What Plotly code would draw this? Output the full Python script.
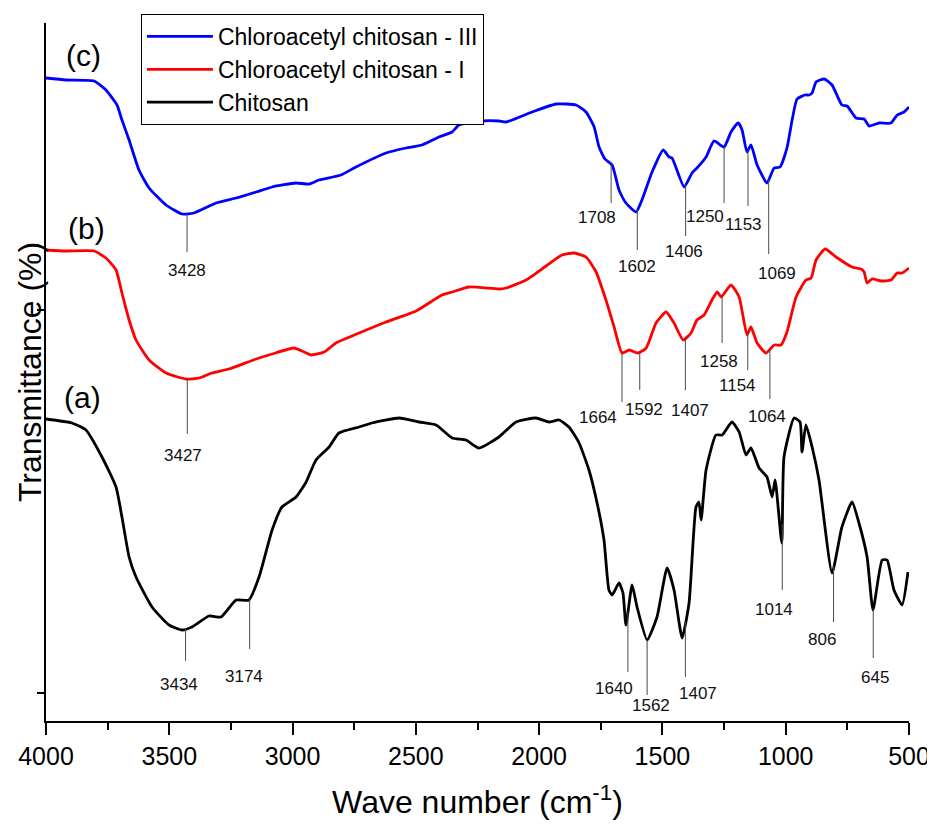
import numpy as np
import plotly.graph_objects as go

# ---------------- data ----------------
# Wave number (cm^-1) and transmittance (arbitrary offset units)
wn_chitosan = [4000, 3895, 3838, 3773, 3716, 3692, 3663, 3635, 3570, 3501, 3448, 3408, 3339, 3290,
               3229, 3177, 3136, 3083, 3043, 2986, 2945, 2905, 2852, 2812, 2730, 2678, 2568, 2487,
               2418, 2353, 2297, 2244, 2163, 2094, 2013, 1960, 1919, 1879, 1838, 1798, 1765, 1737,
               1717, 1704, 1676, 1660, 1648, 1623, 1603, 1562, 1522, 1481, 1453, 1420, 1392, 1364,
               1352, 1343, 1323, 1283, 1258, 1218, 1189, 1161, 1141, 1108, 1076, 1055, 1043, 1016,
               1007, 966, 942, 934, 918, 893, 865, 812, 772, 731, 703, 670, 646, 609, 589, 561, 528, 504]
t_chitosan = [296, 292, 285, 258, 228, 198, 158, 138, 108, 90, 85, 88, 99, 98,
              115, 115, 138, 185, 208, 218, 233, 255, 268, 282, 288, 292, 297, 293,
              290, 277, 275, 267, 278, 293, 297, 293, 295, 288, 272, 245, 212, 175,
              125, 120, 132, 122, 90, 130, 108, 75, 98, 147, 125, 77, 112, 208,
              213, 195, 245, 280, 280, 293, 283, 260, 267, 247, 238, 218, 235, 172,
              258, 297, 293, 263, 290, 268, 235, 142, 188, 213, 192, 158, 105, 155, 155, 125, 110, 143]

wn_ca1 = [4000, 3919, 3805, 3757, 3716, 3692, 3663, 3635, 3582, 3513, 3432, 3379, 3327, 3258,
          3148, 3083, 2994, 2962, 2925, 2872, 2824, 2730, 2621, 2499, 2394, 2353, 2284, 2163,
          2134, 2053, 1972, 1907, 1858, 1810, 1769, 1729, 1696, 1664, 1635, 1599, 1566, 1526,
          1485, 1453, 1416, 1384, 1360, 1331, 1299, 1278, 1262, 1222, 1189, 1157, 1141, 1116,
          1080, 1047, 1019, 995, 958, 918, 897, 877, 840, 796, 731, 694, 682, 670, 650, 613,
          573, 548, 528, 500]
t_ca1 = [465, 464, 464, 457, 445, 422, 395, 375, 355, 342, 336, 337, 342, 346,
         356, 361, 367, 364, 360, 363, 372, 382, 393, 404, 420, 423, 428, 426,
         427, 435, 449, 460, 462, 458, 443, 415, 388, 362, 365, 362, 367, 392,
         403, 392, 375, 382, 395, 400, 415, 423, 418, 430, 418, 380, 388, 372,
         362, 370, 370, 383, 418, 435, 437, 455, 466, 458, 448, 446, 443, 432, 436, 434,
         435, 442, 442, 447]

wn_ca3 = [4000, 3919, 3805, 3757, 3712, 3692, 3663, 3623, 3582, 3513, 3448, 3400, 3310, 3229,
          3148, 3083, 2986, 2933, 2893, 2804, 2743, 2621, 2540, 2475, 2406, 2353, 2325, 2232,
          2163, 2134, 2029, 1931, 1850, 1810, 1777, 1757, 1733, 1704, 1676, 1648, 1607, 1583,
          1542, 1497, 1473, 1461, 1412, 1380, 1360, 1323, 1291, 1250, 1222, 1193, 1177, 1157,
          1141, 1116, 1076, 1047, 1023, 995, 974, 954, 922, 905, 893, 877, 844, 812, 772, 751,
          715, 682, 662, 621, 573, 548, 520, 500]
t_ca3 = [637, 635, 634, 625, 610, 595, 575, 545, 527, 510, 501, 502, 512, 517,
         523, 528, 532, 531, 535, 540, 548, 562, 567, 570, 578, 583, 590, 594,
         594, 593, 603, 611, 610, 603, 588, 568, 556, 550, 525, 512, 503, 515,
         543, 565, 558, 557, 528, 542, 547, 558, 574, 568, 583, 592, 585, 563,
         570, 550, 532, 547, 548, 567, 595, 616, 620, 620, 622, 633, 636, 630, 610, 609,
         597, 596, 589, 592, 592, 600, 603, 608]

series_names = ["Chloroacetyl chitosan - III", "Chloroacetyl chitosan - I", "Chitosan"]
panel_labels = ["(c)", "(b)", "(a)"]

peaks_ca3 = [3428, 1708, 1602, 1406, 1250, 1153, 1069]
peaks_ca1 = [3427, 1664, 1592, 1407, 1258, 1154, 1064]
peaks_chitosan = [3434, 3174, 1640, 1562, 1407, 1014, 806, 645]

x_ticks = [4000, 3500, 3000, 2500, 2000, 1500, 1000, 500]
y_ticks = [22, 405]

# ---------------- layout helpers (positions / styles) ----------------
# (stem bottom, label x-shift in px, label centre) for each peak marker
peak_layout_ca3 = [(463, 0, 445), (512, -14, 498), (465, 0, 449), (479, -2, 464),
                   (512, -19, 499), (509, -4, 491), (461, 8, 442)]
peak_layout_ca1 = [(281, -4, 260), (313, -24, 298), (325, 4, 306), (325, 5, 305),
                   (372, -3, 354), (345, -10, 330), (316, -3, 299)]
peak_layout_chitosan = [(54, -7, 31), (66, -6, 39), (43, -14, 27), (20, 4, 10),
                        (38, 13, 22), (125, -8, 106), (93, -12, 76), (57, 2, 38)]
panel_label_pos = [(3846, 660), (3834, 487), (3850, 318)]

colors = ["#0000FF", "#FF0000", "#000000"]
FONT = "Liberation Sans, Arial, sans-serif"

fig = go.Figure()

series = [(wn_ca3, t_ca3), (wn_ca1, t_ca1), (wn_chitosan, t_chitosan)]
for (wx, ty), name, col in zip(series, series_names, colors):
    fig.add_trace(go.Scatter(x=wx, y=ty, mode="lines", name=name,
                             line=dict(color=col, width=2.8, shape="spline", smoothing=0.5)))

shapes = []
annotations = []
for (wx, ty), peaks, lay in zip(series,
                                [peaks_ca3, peaks_ca1, peaks_chitosan],
                                [peak_layout_ca3, peak_layout_ca1, peak_layout_chitosan]):
    xs = np.array(wx[::-1], dtype=float)
    ys = np.array(ty[::-1], dtype=float)
    for p, (bottom, dx, lab_y) in zip(peaks, lay):
        top = float(np.interp(p, xs, ys))
        shapes.append(dict(type="line", xref="x", yref="y", x0=p, x1=p, y0=top, y1=bottom,
                           line=dict(color="#4a4a4a", width=1)))
        annotations.append(dict(x=p, y=lab_y, xref="x", yref="y", text=str(p), showarrow=False,
                                xshift=dx, xanchor="center", yanchor="middle",
                                font=dict(family=FONT, size=17, color="#111")))

for lab, (px, py) in zip(panel_labels, panel_label_pos):
    annotations.append(dict(x=px, y=py, xref="x", yref="y", text=lab, showarrow=False,
                            xanchor="center", yanchor="middle",
                            font=dict(family=FONT, size=30, color="black")))

# y-axis title as rotated text placed close to the axis line
annotations.append(dict(x=-0.0185, y=0.5, xref="paper", yref="paper", text="Transmittance (%)",
                        showarrow=False, textangle=-90, xanchor="center", yanchor="middle",
                        font=dict(family=FONT, size=32, color="black")))

fig.update_layout(
    width=927, height=821,
    margin=dict(l=38, r=26, t=15, b=108, autoexpand=False),
    paper_bgcolor="white", plot_bgcolor="white",
    font=dict(family=FONT, color="black"),
    shapes=shapes, annotations=annotations,
    showlegend=True,
    legend=dict(x=0.110, y=1.013, xanchor="left", yanchor="top",
                bgcolor="white", bordercolor="black", borderwidth=1,
                font=dict(family=FONT, size=23, color="black"),
                itemwidth=66, tracegroupgap=0),
    xaxis=dict(range=[4000, 500], tickvals=x_ticks, ticktext=[str(v) for v in x_ticks],
               showline=True, linecolor="black", linewidth=2, mirror=False,
               ticks="outside", ticklen=12, tickwidth=2, tickcolor="black",
               minor=dict(ticks="outside", ticklen=7, tickwidth=2, tickcolor="black", dtick=250,
                          tick0=500, showgrid=False),
               showgrid=False, zeroline=False,
               tickfont=dict(family=FONT, size=25), ticklabelstandoff=0,
               title=dict(text="Wave number (cm<sup>-1</sup>)", font=dict(family=FONT, size=32),
                          standoff=22),
               automargin=False),
    yaxis=dict(range=[-6, 692], tickvals=y_ticks, showticklabels=False,
               showline=True, linecolor="black", linewidth=2,
               ticks="outside", ticklen=7, tickwidth=2, tickcolor="black",
               showgrid=False, zeroline=False,
               automargin=False),
)

fig.write_html("out.html")
